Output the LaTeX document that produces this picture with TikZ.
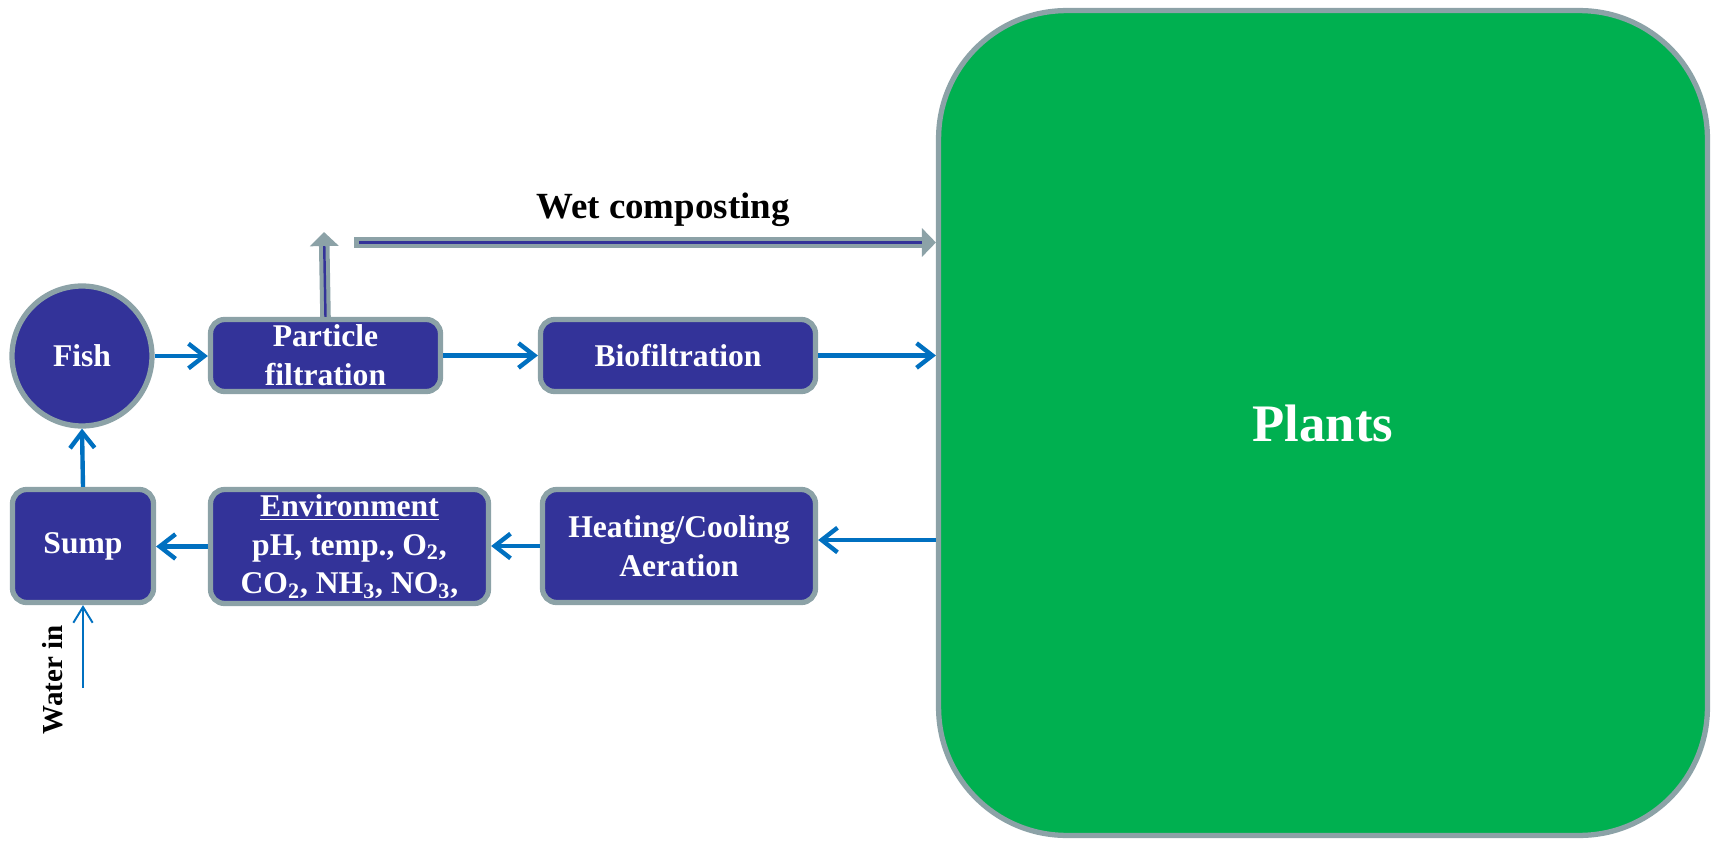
\documentclass[tikz,border=0pt]{standalone}
\usepackage{fontspec}
\setmainfont{Liberation Serif}
\usetikzlibrary{arrows.meta}
\definecolor{boxblue}{RGB}{51,51,153}
\definecolor{rimgray}{RGB}{140,162,167}
\definecolor{plantgreen}{RGB}{0,176,80}
\definecolor{flowblue}{RGB}{0,112,192}

\begin{document}
\begin{tikzpicture}[x=0.02cm,y=-0.02cm,
   unit/.style={draw=rimgray, line width=3pt, fill=boxblue, rounded corners=8pt,
     text=white, align=center, inner sep=0pt,
     font=\bfseries\fontsize{18}{22}\selectfont},
   flow/.style={draw=flowblue, line width=2.5pt, -{Straight Barb[length=9pt,width=14pt]}},
   inflow/.style={draw=flowblue, line width=1.1pt, -{Straight Barb[length=9pt,width=11pt]}},
   wetpipe/.style={draw=rimgray, line width=6pt, -{Triangle[length=8pt,width=16pt]}},
   wetcore/.style={draw=boxblue, line width=1.4pt, shorten >=8pt}]
   \useasboundingbox (0,0) rectangle (1713,841);
   % tanks and treatment units
   \node[unit, circle, rounded corners=0pt, minimum size=2.8cm] (fish) at (82,356) {Fish};
   \node[unit, minimum width=4.6cm, minimum height=1.44cm] (particle) at (325.5,355.5) {Particle\\filtration};
   \node[unit, minimum width=5.5cm, minimum height=1.44cm] (bio) at (678,355.5) {Biofiltration};
   \node[unit, minimum width=2.82cm, minimum height=2.26cm] (sump) at (83,546) {Sump};
   \node[unit, minimum width=5.56cm, minimum height=2.28cm] (env) at (349.5,546.5)
      {\underline{Environment}\\pH, temp., O\textsubscript{2},\\CO\textsubscript{2}, NH\textsubscript{3}, NO\textsubscript{3},};
   \node[unit, minimum width=5.46cm, minimum height=2.26cm] (heat) at (679,546) {Heating/Cooling\\Aeration};
   \node[draw=rimgray, line width=3pt, fill=plantgreen, rounded corners=2.56cm,
      minimum width=15.38cm, minimum height=16.5cm, text=white,
      font=\bfseries\fontsize{30}{35}\selectfont] (plants) at (1323,423) {Plants};
   % water loop
   \draw[flow] (fish.east) -- (fish.east -| particle.west);
   \draw[flow] (particle.east) -- (particle.east -| bio.west);
   \draw[flow] (bio.east) -- (bio.east -| plants.west);
   \draw[flow] ([yshift=3.4pt]heat.east -| plants.west) -- ([yshift=3.4pt]heat.east);
   \draw[flow] (heat.west) -- (heat.west -| env.east);
   \draw[flow] (env.west) -- (env.west -| sump.east);
   \draw[flow] (sump.north) -- (fish.south);
   % make-up water
   \coordinate (tap) at (83,688);
   \draw[inflow] (tap) -- (sump.south);
   \node[rotate=90, font=\bfseries\fontsize{16.5}{20}\selectfont] (waterlbl) at (53,680) {Water in};
   % solids to composting
   \coordinate (wetup) at (324,232);
   \coordinate (wetstart) at (354,242.5);
   \draw[wetpipe] (particle.north) -- (wetup);
   \draw[wetcore] (particle.north) -- (wetup);
   \draw[wetpipe] (wetstart) -- (wetstart -| plants.west);
   \draw[wetcore] ([xshift=3pt]wetstart) -- (wetstart -| plants.west);
   \node[anchor=base, font=\bfseries\fontsize{21}{25}\selectfont] (wetlbl) at (663,218) {Wet composting};
\end{tikzpicture}
\end{document}
